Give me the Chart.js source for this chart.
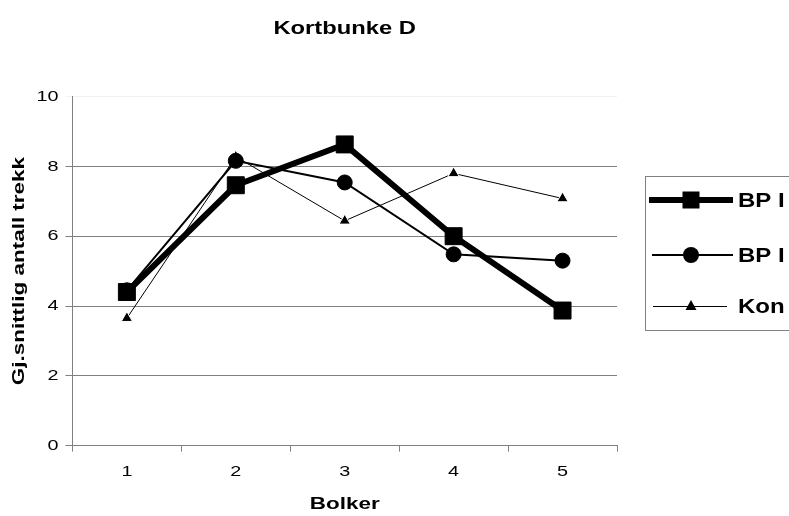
<!DOCTYPE html>
<html lang="no">
<head>
  <meta charset="UTF-8">
  <title>Kortbunke D</title>
  <script src="https://cdn.jsdelivr.net/npm/chart.js"></script>
  <style>
    html, body { margin: 0; padding: 0; background: #fff; }
    canvas { display: block; }
  </style>
</head>
<body>
  <canvas id="kortChart" width="789" height="516"></canvas>

  <script>
    const bolker = ['1', '2', '3', '4', '5'];
    const seriesNames = ['BP I', 'BP I', 'Kon'];
    const bpOne = [4.40, 7.46, 8.63, 6.00, 3.87];
    const bpTwo = [4.45, 8.16, 7.54, 5.48, 5.30];
    const kontroll = [3.65, 8.28, 6.44, 7.80, 7.08];
    const yTicks = [0, 2, 4, 6, 8, 10];

    const FONT = 'Arial, "Liberation Sans", Helvetica, sans-serif';
    // the original text is rendered noticeably wider than plain Arial
    let stretch = 1.32;

    function widenText(c) {
      const fill = c.fillText;
      const measure = c.measureText;
      c.fillText = function (text, x, y) {
        this.save();
        this.translate(x, y);
        this.scale(stretch, 1);
        fill.call(this, text, 0, 0);
        this.restore();
      };
      c.measureText = function (text) {
        const m = measure.call(this, text);
        return {
          width: m.width * stretch,
          actualBoundingBoxAscent: m.actualBoundingBoxAscent,
          actualBoundingBoxDescent: m.actualBoundingBoxDescent
        };
      };
    }

    // legend is drawn by hand so it can sit half outside the canvas like the original
    const sideLegend = {
      id: 'sideLegend',
      afterDraw(chart) {
        const ctx = chart.ctx;
        ctx.save();
        ctx.strokeStyle = '#808080';
        ctx.lineWidth = 1;
        ctx.strokeRect(645.5, 176.5, 200, 154);

        const rows = [200, 255, 306];
        const starts = [649, 652, 653];
        const ends = [733, 733, 727];
        const oldStretch = stretch;
        stretch = 1.2;
        chart.data.datasets.forEach((ds, i) => {
          const y = rows[i] + (ds.borderWidth % 2 ? 0.5 : 0);
          ctx.strokeStyle = '#000';
          ctx.lineWidth = ds.borderWidth;
          ctx.beginPath();
          ctx.moveTo(starts[i], y);
          ctx.lineTo(ends[i], y);
          ctx.stroke();

          ctx.fillStyle = '#000';
          const cx = 691;
          const cy = rows[i];
          if (ds.pointStyle === 'rect') {
            ctx.fillRect(cx - 8.5, cy - 8.5, 17, 17);
          } else if (ds.pointStyle === 'circle') {
            ctx.beginPath();
            ctx.arc(cx, cy, 8, 0, Math.PI * 2);
            ctx.fill();
          } else {
            ctx.beginPath();
            ctx.moveTo(cx, cy - 6);
            ctx.lineTo(cx + 5.5, cy + 4);
            ctx.lineTo(cx - 5.5, cy + 4);
            ctx.closePath();
            ctx.fill();
          }

          ctx.font = 'bold 20px ' + FONT;
          ctx.textBaseline = 'middle';
          ctx.textAlign = 'left';
          ctx.fillText(ds.label, 738, cy + 1);
        });
        stretch = oldStretch;
        ctx.restore();
      }
    };

    const ctx = document.getElementById('kortChart').getContext('2d');
    widenText(ctx);

    new Chart(ctx, {
      type: 'line',
      data: {
        labels: bolker,
        datasets: [
          {
            label: seriesNames[0],
            data: bpOne,
            borderColor: '#000',
            backgroundColor: '#000',
            borderWidth: 6,
            pointStyle: 'rect',
            pointRadius: 12,
            pointBackgroundColor: '#000',
            pointBorderColor: '#000',
            pointBorderWidth: 1,
            tension: 0
          },
          {
            label: seriesNames[1],
            data: bpTwo,
            borderColor: '#000',
            backgroundColor: '#000',
            borderWidth: 2,
            pointStyle: 'circle',
            pointRadius: 7.5,
            pointBackgroundColor: '#000',
            pointBorderColor: '#000',
            pointBorderWidth: 1,
            tension: 0
          },
          {
            label: seriesNames[2],
            data: kontroll,
            borderColor: '#000',
            backgroundColor: '#000',
            borderWidth: 1,
            pointStyle: 'triangle',
            pointRadius: 6.5,
            pointBackgroundColor: '#000',
            pointBorderColor: '#fff',
            pointBorderWidth: 1,
            tension: 0
          }
        ]
      },
      options: {
        responsive: false,
        animation: false,
        layout: {
          padding: { left: 0, right: 172, top: 0, bottom: 0 }
        },
        plugins: {
          legend: { display: false },
          tooltip: { enabled: false },
          title: {
            display: true,
            fullSize: false,
            text: 'Kortbunke D',
            color: '#000',
            font: { family: FONT, size: 18, weight: 'bold' },
            padding: { top: 18, bottom: 57 }
          }
        },
        scales: {
          x: {
            offset: true,
            grid: {
              offset: true,
              drawOnChartArea: false,
              drawTicks: true,
              tickLength: 6,
              color: '#808080'
            },
            border: { color: '#808080', width: 1 },
            ticks: {
              color: '#000',
              font: { family: FONT, size: 15 },
              padding: 11
            },
            title: {
              display: true,
              text: 'Bolker',
              color: '#000',
              font: { family: FONT, size: 17, weight: 'bold' },
              padding: { top: 3, bottom: 1 }
            }
          },
          y: {
            min: 0,
            max: 10,
            afterBuildTicks(axis) {
              axis.ticks = yTicks.map(v => ({ value: v }));
            },
            grid: {
              color: c => (c.tick && c.tick.value === 10) ? '#f2f2f2' : '#808080',
              tickLength: 7,
              drawTicks: true
            },
            border: { color: '#808080', width: 1 },
            ticks: {
              color: '#000',
              font: { family: FONT, size: 15 },
              padding: 7
            },
            title: {
              display: true,
              text: 'Gj.snittlig antall trekk',
              color: '#000',
              font: { family: FONT, size: 17, weight: 'bold' },
              padding: { top: 9, bottom: 0 }
            }
          }
        }
      },
      plugins: [sideLegend]
    });
  </script>
</body>
</html>
